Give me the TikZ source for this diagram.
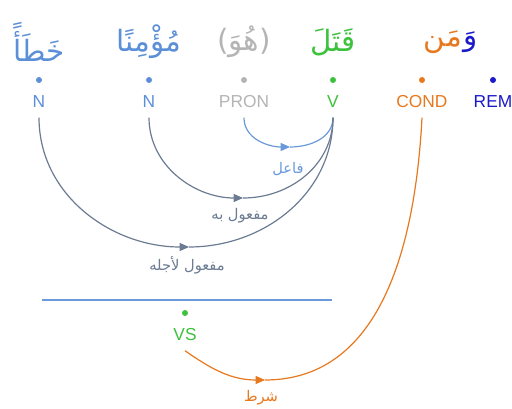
\documentclass[tikz,border=0pt]{standalone}
\usepackage{fontspec}
\setmainfont{Liberation Sans}
\newfontfamily\arabicfont[Script=Arabic]{DejaVu Sans}
\TeXXeTstate=1
\usetikzlibrary{arrows.meta,positioning}
\definecolor{nounblue}{HTML}{5B8FD8}
\definecolor{prongrey}{HTML}{B4B4B4}
\definecolor{verbgreen}{HTML}{3CC23C}
\definecolor{condorange}{HTML}{E8781E}
\definecolor{remblue}{HTML}{1A1AC8}
\definecolor{relslate}{HTML}{6B7B92}
\definecolor{relblue}{HTML}{6A9ADC}
\begin{document}
\begin{tikzpicture}[x=0.75pt,y=-0.75pt,>={Triangle[length=7pt,width=6pt]},
        word/.style={font=\arabicfont\fontsize{22}{26}\selectfont},
        tag/.style={font=\fontsize{13}{15}\selectfont, inner sep=0pt, inner ysep=7pt},
        pt/.style={circle, fill, inner sep=0pt, minimum size=4.5pt},
        lbl/.style={font=\arabicfont\fontsize{11}{13}\selectfont},
        rel/.style={line width=0.9pt}]
        \useasboundingbox (0,0) rectangle (512,409);
        % words
        \node[word, text=nounblue] (w1) at (39,42) {\beginR خَطَأً\endR};
        \node[word, text=nounblue] (w2) at (149,42) {\beginR مُؤْمِنًا\endR};
        \node[word, text=prongrey] (w3) at (244,42) {\beginR (هُوَ)\endR};
        \node[word, text=verbgreen] (w4) at (333,42) {\beginR قَتَلَ\endR};
        \node[word, text=condorange, inner xsep=0pt] (w5) at (443,42) {\beginR مَن\endR};
        \node[word, text=remblue, inner xsep=0pt, right=1pt of w5] (w5r) {\beginR وَ\endR};
        % dots
        \node[pt, nounblue] (d1) at (39,80) {};
        \node[pt, nounblue] (d2) at (149,80) {};
        \node[pt, prongrey] (d3) at (244,80) {};
        \node[pt, verbgreen] (d4) at (333,80) {};
        \node[pt, condorange] (d5) at (422,80) {};
        \node[pt, remblue] (d6) at (493,80) {};
        \node[pt, verbgreen] (dvs) at (185,313) {};
        % tags
        \node[tag, text=nounblue] (t1) at (39,102) {N};
        \node[tag, text=nounblue] (t2) at (149,102) {N};
        \node[tag, text=prongrey] (t3) at (244,102) {PRON};
        \node[tag, text=verbgreen] (t4) at (333,102) {V};
        \node[tag, text=condorange] (t5) at (422,102) {COND};
        \node[tag, text=remblue] (t6) at (493,102) {REM};
        \node[tag, text=verbgreen] (tvs) at (185,335) {VS};
        % hidden phrase
        \coordinate (hs) at (42,300);
        \coordinate (he) at (332,300);
        \draw[relblue, line width=0.8pt] (hs) -- (he);
        % arcs
        \coordinate (b1) at (290,147);
        \coordinate (b2) at (243,198);
        \coordinate (b3) at (189,247);
        \coordinate (b4) at (265,380);
        \draw[rel, relblue, ->] (t3.south) to[out=-90,in=180] (b1);
        \draw[rel, relblue] (b1) to[out=0,in=-90] (t4.south);
        \draw[rel, relslate, ->] (t2.south) to[out=-90,in=180] (b2);
        \draw[rel, relslate] (b2) to[out=0,in=-90] (t4.south);
        \draw[rel, relslate, ->] (t1.south) to[out=-90,in=180] (b3);
        \draw[rel, relslate] (b3) to[out=0,in=-90] (t4.south);
        \draw[rel, condorange, ->] (tvs.south) to[out=-35,in=180] (b4);
        \draw[rel, condorange] (b4) to[out=0,in=-93] (t5.south);
        % relation labels
        \node[lbl, text=relblue] (l1) at (288,169) {\beginR فاعل\endR};
        \node[lbl, text=relslate] (l2) at (240,216) {\beginR مفعول به\endR};
        \node[lbl, text=relslate] (l3) at (187,265) {\beginR مفعول لأجله\endR};
        \node[lbl, text=condorange] (l4) at (261,398) {\beginR شرط\endR};
    \end{tikzpicture}
\end{document}
